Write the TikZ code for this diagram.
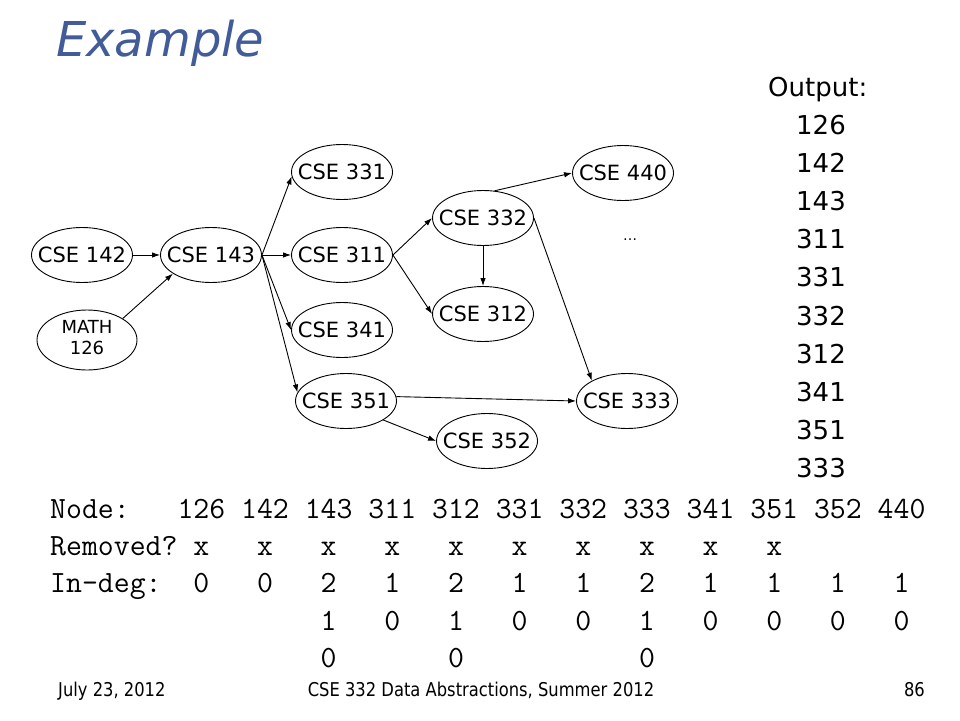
\documentclass[tikz,border=0pt]{standalone}
\usepackage{fontspec}
\setmainfont{DejaVu Sans}
\newfontfamily\footfont[FakeStretch=0.86]{DejaVu Sans}
\usetikzlibrary{arrows.meta,shapes.geometric}
\definecolor{titleblue}{HTML}{415C98}
\tikzstyle{course}=[ellipse, draw=black, line width=0.9pt, minimum width=101pt, minimum height=55pt, inner sep=0pt, font=\fontsize{21}{25}\selectfont]
\tikzstyle{prereq}=[draw=black, line width=0.9pt, -{Latex[length=8pt,width=5.5pt]}]
\tikzstyle{tablerow}=[anchor=base west, inner sep=0pt, font=\ttfamily\fontsize{30.9}{34}\selectfont]
\tikzstyle{outitem}=[inner sep=0pt, font=\fontsize{26}{30}\selectfont]
\newcommand{\lbl}[1]{\makebox[0pt]{#1}}

\begin{document}
\begin{tikzpicture}[x=1pt, y=-1pt]
			\useasboundingbox (0,0) rectangle (960,720);
			\node[anchor=base west, inner sep=0pt, text=titleblue, font=\itshape\fontsize{48}{52}\selectfont] (title) at (56,56) {Example};
			% course graph
			\node[course] (c142) at (82,255) {\lbl{CSE 142}};
			\node[course] (c143) at (211,255) {\lbl{CSE 143}};
			\node[course, minimum width=100pt, minimum height=60pt, font=\fontsize{18}{21}\selectfont] (c126) at (87,340) {\lbl{\begin{tabular}{@{}c@{}}MATH\\126\end{tabular}}};
			\node[course] (c331) at (342,172) {\lbl{CSE 331}};
			\node[course] (c311) at (342,255) {\lbl{CSE 311}};
			\node[course] (c341) at (342,330) {\lbl{CSE 341}};
			\node[course] (c351) at (346,401) {\lbl{CSE 351}};
			\node[course] (c332) at (483,218) {\lbl{CSE 332}};
			\node[course] (c312) at (483,314) {\lbl{CSE 312}};
			\node[course] (c440) at (623,173) {\lbl{CSE 440}};
			\node[course] (c333) at (627,401) {\lbl{CSE 333}};
			\node[course] (c352) at (487,441) {\lbl{CSE 352}};
			\node[inner sep=0pt, font=\fontsize{14}{16}\selectfont] (more) at (630,240) {\ldots};
			\draw[prereq] (c142.east)--(c143.west);
			\draw[prereq] (c126.31)--(c143.206);
			\draw[prereq] (c143.east)--(c331.185);
			\draw[prereq] (c143.east)--(c311.west);
			\draw[prereq] (c143.east)--(c341.west);
			\draw[prereq] (c143.east)--(c351.170);
			\draw[prereq] (c311.east)--(c332.west);
			\draw[prereq] (c311.east)--(c312.west);
			\draw[prereq] (c332.67)--(c440.west);
			\draw[prereq] (c332.south)--(c312.north);
			\draw[prereq] (c332.east)--(c333.150);
			\draw[prereq] (c351.5)--(c333.west);
			\draw[prereq] (c351.333)--(c352.west);
			% output order
			\node[outitem, anchor=base west] (outhead) at (768,96) {Output:};
			\foreach \num [count=\i from 0] in {126,142,143,311,331,332,312,341,351,333}
				\node[outitem, anchor=base] (out\num) at (821,{134+38.2*\i}) {\num};
			% in-degree table
			\node[tablerow] (rownode) at (50,518) {Node:~~~126~142~143~311~312~331~332~333~341~351~352~440};
			\node[tablerow] (rowremoved) at (50,555) {Removed?~x~~~x~~~x~~~x~~~x~~~x~~~x~~~x~~~x~~~x};
			\node[tablerow] (rowdeg) at (50,592) {In-deg:~~0~~~0~~~2~~~1~~~2~~~1~~~1~~~2~~~1~~~1~~~1~~~1};
			\node[tablerow] (rowdegb) at (50,630) {~~~~~~~~~~~~~~~~~1~~~0~~~1~~~0~~~0~~~1~~~0~~~0~~~0~~~0};
			\node[tablerow] (rowdegc) at (50,667) {~~~~~~~~~~~~~~~~~0~~~~~~~0~~~~~~~~~~~0};
			% footer
			\node[anchor=base west, inner sep=0pt, font=\footfont\fontsize{19}{22}\selectfont] (footdate) at (58,696) {July 23, 2012};
			\node[anchor=base, inner sep=0pt, font=\footfont\fontsize{19}{22}\selectfont] (foottitle) at (481,696) {CSE 332 Data Abstractions, Summer 2012};
			\node[anchor=base east, inner sep=0pt, font=\footfont\fontsize{19}{22}\selectfont] (footpage) at (925,696) {86};
		\end{tikzpicture}
\end{document}
